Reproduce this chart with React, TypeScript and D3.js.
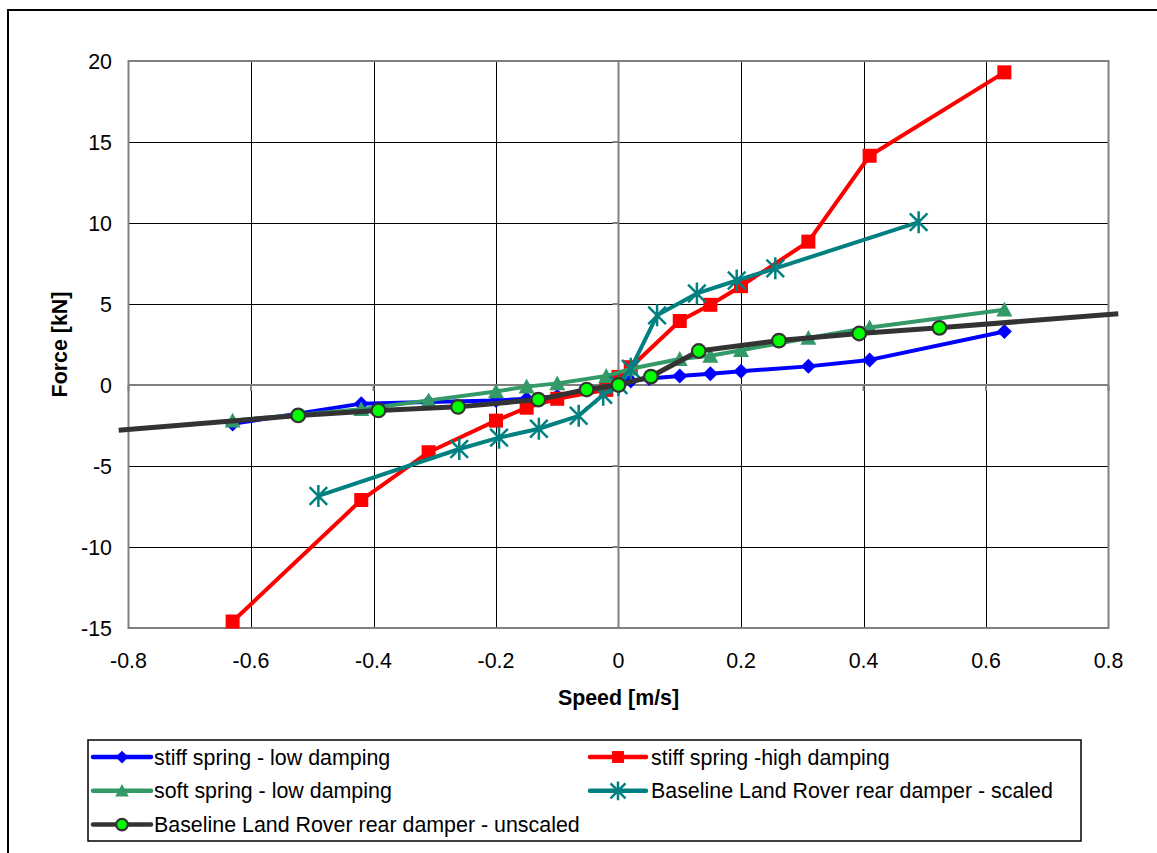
import React from 'react';
import * as d3 from 'd3';

// Speed [m/s] / Force [kN]
const stiffLowSpeed = [-0.63, -0.42, -0.31, -0.2, -0.15, -0.1, -0.02, 0.02, 0.05, 0.1, 0.15, 0.2, 0.31, 0.41, 0.63];
const stiffLowForce = [-2.4, -1.15, -1.05, -0.95, -0.85, -0.7, -0.3, 0.25, 0.4, 0.55, 0.7, 0.85, 1.15, 1.55, 3.3];

const stiffHighSpeed = [-0.63, -0.42, -0.31, -0.2, -0.15, -0.1, -0.02, 0.0, 0.02, 0.1, 0.15, 0.2, 0.31, 0.41, 0.63];
const stiffHighForce = [-14.6, -7.1, -4.15, -2.2, -1.4, -0.85, -0.3, 0.5, 1.1, 3.95, 4.95, 6.1, 8.85, 14.15, 19.3];

const softLowSpeed = [-0.63, -0.42, -0.31, -0.2, -0.15, -0.1, -0.02, 0.02, 0.1, 0.15, 0.2, 0.31, 0.41, 0.63];
const softLowForce = [-2.2, -1.5, -0.95, -0.4, -0.1, 0.1, 0.55, 1.0, 1.6, 1.8, 2.15, 2.9, 3.55, 4.65];

const scaledSpeed = [-0.49, -0.26, -0.195, -0.13, -0.065, -0.025, 0.0, 0.02, 0.063, 0.128, 0.193, 0.256, 0.49];
const scaledForce = [-6.85, -3.95, -3.25, -2.7, -1.9, -0.6, 0.0, 1.0, 4.3, 5.65, 6.45, 7.2, 10.05];

// first and last points are the line ends without a marker
const unscaledSpeed = [-0.816, -0.523, -0.392, -0.262, -0.131, -0.052, 0.0, 0.053, 0.131, 0.262, 0.393, 0.524, 0.816];
const unscaledForce = [-2.8, -1.88, -1.57, -1.35, -0.9, -0.28, 0.0, 0.52, 2.1, 2.74, 3.18, 3.53, 4.4];

const xTicks = [-0.8, -0.6, -0.4, -0.2, 0, 0.2, 0.4, 0.6, 0.8];
const yTicks = [-15, -10, -5, 0, 5, 10, 15, 20];

type Marker = 'diamond' | 'square' | 'triangle' | 'star' | 'circle';

const series = [
  { name: 'stiff spring - low damping', xs: stiffLowSpeed, ys: stiffLowForce, color: '#0000ff', marker: 'diamond' as Marker, endsBare: false },
  { name: 'stiff spring -high damping', xs: stiffHighSpeed, ys: stiffHighForce, color: '#ff0000', marker: 'square' as Marker, endsBare: false },
  { name: 'soft spring - low damping', xs: softLowSpeed, ys: softLowForce, color: '#339966', marker: 'triangle' as Marker, endsBare: false },
  { name: 'Baseline Land Rover rear damper - scaled', xs: scaledSpeed, ys: scaledForce, color: '#008080', marker: 'star' as Marker, endsBare: false },
  { name: 'Baseline Land Rover rear damper - unscaled', xs: unscaledSpeed, ys: unscaledForce, color: '#333333', marker: 'circle' as Marker, endsBare: true },
];

const FONT = 'Arial, "Liberation Sans", sans-serif';
const FS = 21.4;

function MarkerShape({ kind, color, x, y, s = 1 }: { kind: Marker; color: string; x: number; y: number; s?: number }) {
  const t = `translate(${x},${y})`;
  if (kind === 'diamond') {
    const r = 7.5 * s;
    return <path transform={t} d={`M0,${-r}L${r},0L0,${r}L${-r},0Z`} fill={color} />;
  }
  if (kind === 'square') {
    const h = 7 * s;
    return <rect x={x - h} y={y - h} width={2 * h} height={2 * h} fill={color} />;
  }
  if (kind === 'triangle') {
    const r = 8 * s;
    return <path transform={t} d={`M0,${-r}L${r},${r * 0.85}L${-r},${r * 0.85}Z`} fill={color} />;
  }
  if (kind === 'star') {
    const r = 11 * s;
    const d = r * 0.8;
    return (
      <path
        transform={t}
        d={`M0,${-r}L0,${r}M${-d},${-d}L${d},${d}M${-d},${d}L${d},${-d}`}
        stroke={color}
        strokeWidth={2.5}
        fill="none"
      />
    );
  }
  return <circle cx={x} cy={y} r={6.8 * s} fill="#00ff00" stroke="#333333" strokeWidth={2.2} />;
}

export default function App() {
  const left = 128.5;
  const right = 1108.5;
  const top = 61;
  const bottom = 628;

  const x = d3.scaleLinear().domain([-0.8, 0.8]).range([left, right]);
  const y = d3.scaleLinear().domain([-15, 20]).range([bottom, top]);

  const line = d3
    .line<[number, number]>()
    .x(d => x(d[0]))
    .y(d => y(d[1]));

  const fmt = (v: number) => (v === 0 ? '0' : String(v));
  const crisp = (v: number) => Math.round(v) + 0.5;

  const legendRows = [
    { col: 0, row: 0 },
    { col: 1, row: 0 },
    { col: 0, row: 1 },
    { col: 1, row: 1 },
    { col: 0, row: 2 },
  ];

  return (
    <svg
      width={1157}
      height={853}
      style={{ position: 'fixed', left: 0, top: 0, background: '#fff' }}
      fontFamily={FONT}
    >
      <rect x={0} y={0} width={1157} height={853} fill="#fff" />
      <rect x={8} y={10} width={1200} height={900} fill="none" stroke="#000" strokeWidth={2} />

      {/* grid */}
      {xTicks.filter(v => v !== 0 && Math.abs(v) < 0.8).map(v => (
        <line key={'gx' + v} x1={crisp(x(v))} x2={crisp(x(v))} y1={top} y2={bottom} stroke="#000" strokeWidth={1} />
      ))}
      {yTicks.filter(v => v !== 0 && v > -15 && v < 20).map(v => (
        <line key={'gy' + v} x1={left} x2={right} y1={crisp(y(v))} y2={crisp(y(v))} stroke="#000" strokeWidth={1} />
      ))}

      {/* plot border */}
      <rect x={left} y={top} width={right - left} height={bottom - top} fill="none" stroke="#808080" strokeWidth={2} />

      {/* axes through zero */}
      <line x1={x(0)} x2={x(0)} y1={top} y2={bottom} stroke="#808080" strokeWidth={2} />
      <line x1={left} x2={right} y1={y(0)} y2={y(0)} stroke="#808080" strokeWidth={2} />
      {yTicks.map(v => (
        <line key={'ty' + v} x1={x(0) - 6} x2={x(0)} y1={y(v)} y2={y(v)} stroke="#808080" strokeWidth={2} />
      ))}
      {xTicks.map(v => (
        <line key={'tx' + v} x1={x(v)} x2={x(v)} y1={y(0)} y2={y(0) + 6} stroke="#808080" strokeWidth={2} />
      ))}

      {/* tick labels */}
      {yTicks.map(v => (
        <text key={'ly' + v} x={112} y={y(v) + 7.5} textAnchor="end" fontSize={FS} fill="#000">
          {fmt(v)}
        </text>
      ))}
      {xTicks.map(v => (
        <text key={'lx' + v} x={x(v)} y={668} textAnchor="middle" fontSize={FS} fill="#000">
          {fmt(v)}
        </text>
      ))}

      {/* axis titles */}
      <text x={x(0)} y={705} textAnchor="middle" fontSize={FS} fontWeight="bold" fill="#000">
        Speed [m/s]
      </text>
      <text
        transform={`translate(67,${(top + bottom) / 2}) rotate(-90)`}
        textAnchor="middle"
        fontSize={FS}
        fontWeight="bold"
        fill="#000"
      >
        Force [kN]
      </text>

      {/* series */}
      {series.map(s => {
        const pts = s.xs.map((v, i) => [v, s.ys[i]] as [number, number]);
        const marks = s.endsBare ? pts.slice(1, -1) : pts;
        return (
          <g key={s.name}>
            <path d={line(pts) ?? ''} fill="none" stroke={s.color} strokeWidth={s.endsBare ? 5 : 4} strokeLinejoin="round" />
            {marks.map((p, i) => (
              <MarkerShape key={i} kind={s.marker} color={s.color} x={x(p[0])} y={y(p[1])} />
            ))}
          </g>
        );
      })}

      {/* legend */}
      <rect x={88} y={740} width={993} height={101} fill="#fff" stroke="#000" strokeWidth={1.5} />
      {series.map((s, i) => {
        const { col, row } = legendRows[i];
        const cy = 757 + row * 33.8;
        const x0 = col === 0 ? 93 : 590;
        const x1 = col === 0 ? 151 : 646;
        const tx = col === 0 ? 154 : 651;
        return (
          <g key={'lg' + s.name}>
            <line x1={x0} x2={x1} y1={cy} y2={cy} stroke={s.color} strokeWidth={4.5} strokeLinecap="round" />
            <MarkerShape kind={s.marker} color={s.color} x={(x0 + x1) / 2} y={cy} s={0.85} />
            <text x={tx} y={cy + 7.5} fontSize={FS} fill="#000">
              {s.name}
            </text>
          </g>
        );
      })}
    </svg>
  );
}
